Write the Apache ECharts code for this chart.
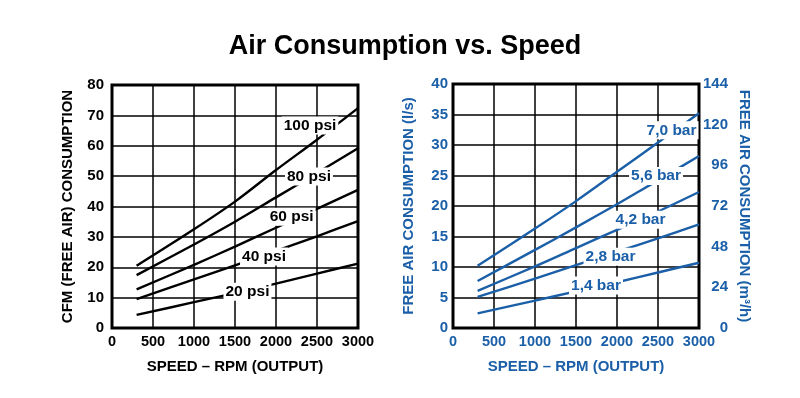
<!DOCTYPE html>
<html>
<head>
<meta charset="utf-8">
<script src="https://cdn.jsdelivr.net/npm/echarts@6/dist/echarts.min.js"></script>
<style>
  html, body { margin: 0; padding: 0; background: #fff; }
  #chart { width: 800px; height: 398px; }
</style>
</head>
<body>
<div id="chart"></div>
<script>
// speed (rpm) where the curves are read
const rpm = [300, 1000, 1500, 2000, 2500, 3000]

// left chart: CFM (free air)
const psiNames = ['100 psi', '80 psi', '60 psi', '40 psi', '20 psi']
const psi100 = [20.5, 32.5, 41.6, 52, 62, 72.4]
const psi80 = [17.4, 27.5, 35, 43, 51, 59.2]
const psi60 = [12.7, 20.8, 26.8, 33, 39.2, 45.5]
const psi40 = [9.5, 16, 20.6, 25.4, 30.2, 35.2]
const psi20 = [4.3, 8.5, 11.5, 14.6, 17.9, 21.2]

// right chart: l/s
const barNames = ['7,0 bar', '5,6 bar', '4,2 bar', '2,8 bar', '1,4 bar']
const bar70 = [10.2, 16.3, 20.8, 25.6, 30.4, 35.2]
const bar56 = [7.7, 12.8, 16.5, 20.3, 24.2, 28.2]
const bar42 = [6.1, 10.1, 13.1, 16.1, 19.1, 22.3]
const bar28 = [5.1, 8.1, 10.3, 12.5, 14.7, 17]
const bar14 = [2.4, 4.5, 6.0, 7.5, 9.1, 10.7]

const blue = '#1a5fa8'
const font = '"Liberation Sans", Arial, sans-serif'

// where each curve's label sits (rpm, value)
const psiLabelAt = [[2415, 66.7], [2402, 49.9], [2191, 36.6], [1854, 23.5], [1652, 11.95]]
const barLabelAt = [[2665, 32.4], [2476, 24.9], [2287, 17.75], [1921, 11.7], [1744, 6.97]]

function pairs(vals) {
  return rpm.map((r, i) => [r, vals[i]])
}

function curve(name, vals, idx, color, at) {
  return {
    name: name,
    type: 'line',
    xAxisIndex: idx,
    yAxisIndex: idx,
    data: pairs(vals),
    symbol: 'none',
    smooth: 0.3,
    lineStyle: { color: color, width: 2.4 },
    silent: true,
    markPoint: {
      symbol: 'circle',
      symbolSize: 0,
      silent: true,
      data: [{ coord: at }],
      label: {
        show: true,
        position: 'inside',
        formatter: name,
        color: color,
        fontFamily: font,
        fontWeight: 'bold',
        fontSize: 15.5,
        backgroundColor: '#fff',
        padding: [1, 2]
      }
    }
  }
}

function xAxis(idx, color) {
  return {
    type: 'value',
    gridIndex: idx,
    min: 0,
    max: 3000,
    interval: 500,
    name: 'SPEED – RPM (OUTPUT)',
    nameLocation: 'middle',
    nameGap: 31,
    nameTextStyle: { color: color, fontFamily: font, fontWeight: 'bold', fontSize: 15 },
    axisLine: { show: false },
    axisTick: { show: false },
    axisLabel: {
      color: color, fontFamily: font, fontWeight: 'bold', fontSize: 14.5, margin: 6,
      showMaxLabel: true, hideOverlap: false,
      formatter: v => String(v)
    },
    splitLine: { show: true, lineStyle: { color: '#000', width: 1.5 } }
  }
}

const chart = echarts.init(document.getElementById('chart'))
chart.setOption({
  animation: false,
  title: {
    text: 'Air Consumption vs. Speed',
    left: 400,
    textAlign: 'center',
    top: 28,
    textStyle: { fontFamily: font, fontWeight: 'bold', fontSize: 27, color: '#000' }
  },
  grid: [
    { left: 112, top: 85, width: 246, height: 243, show: true, borderColor: '#000', borderWidth: 3 },
    { left: 453, top: 84, width: 246, height: 244, show: true, borderColor: '#000', borderWidth: 3 }
  ],
  xAxis: [xAxis(0, '#000'), xAxis(1, blue)],
  yAxis: [
    {
      type: 'value',
      gridIndex: 0,
      min: 0,
      max: 80,
      interval: 10,
      name: 'CFM (FREE AIR) CONSUMPTION',
      nameLocation: 'middle',
      nameGap: 37,
      nameTextStyle: { color: '#000', fontFamily: font, fontWeight: 'bold', fontSize: 15 },
      axisLine: { show: false },
      axisTick: { show: false },
      axisLabel: { color: '#000', fontFamily: font, fontWeight: 'bold', fontSize: 15, margin: 8 },
      splitLine: { show: true, lineStyle: { color: '#000', width: 1.5 } }
    },
    {
      type: 'value',
      gridIndex: 1,
      position: 'left',
      min: 0,
      max: 40,
      interval: 5,
      name: 'FREE AIR CONSUMPTION (l/s)',
      nameLocation: 'middle',
      nameGap: 37,
      nameTextStyle: { color: blue, fontFamily: font, fontWeight: 'bold', fontSize: 15 },
      axisLine: { show: false },
      axisTick: { show: false },
      axisLabel: { color: blue, fontFamily: font, fontWeight: 'bold', fontSize: 15, margin: 5 },
      splitLine: { show: true, lineStyle: { color: '#000', width: 1.5 } }
    },
    {
      type: 'value',
      gridIndex: 1,
      position: 'right',
      min: 0,
      max: 144,
      interval: 24,
      name: 'FREE AIR CONSUMPTION (m³/h)',
      nameLocation: 'middle',
      nameRotate: -90,
      nameGap: 38,
      nameTextStyle: { color: blue, fontFamily: font, fontWeight: 'bold', fontSize: 15 },
      axisLine: { show: false },
      axisTick: { show: false },
      axisLabel: { color: blue, fontFamily: font, fontWeight: 'bold', fontSize: 15, margin: 29, align: 'right' },
      splitLine: { show: false }
    }
  ],
  series: [
    curve(psiNames[0], psi100, 0, '#000', psiLabelAt[0]),
    curve(psiNames[1], psi80, 0, '#000', psiLabelAt[1]),
    curve(psiNames[2], psi60, 0, '#000', psiLabelAt[2]),
    curve(psiNames[3], psi40, 0, '#000', psiLabelAt[3]),
    curve(psiNames[4], psi20, 0, '#000', psiLabelAt[4]),
    curve(barNames[0], bar70, 1, blue, barLabelAt[0]),
    curve(barNames[1], bar56, 1, blue, barLabelAt[1]),
    curve(barNames[2], bar42, 1, blue, barLabelAt[2]),
    curve(barNames[3], bar28, 1, blue, barLabelAt[3]),
    curve(barNames[4], bar14, 1, blue, barLabelAt[4])
  ]
})
</script>
</body>
</html>
